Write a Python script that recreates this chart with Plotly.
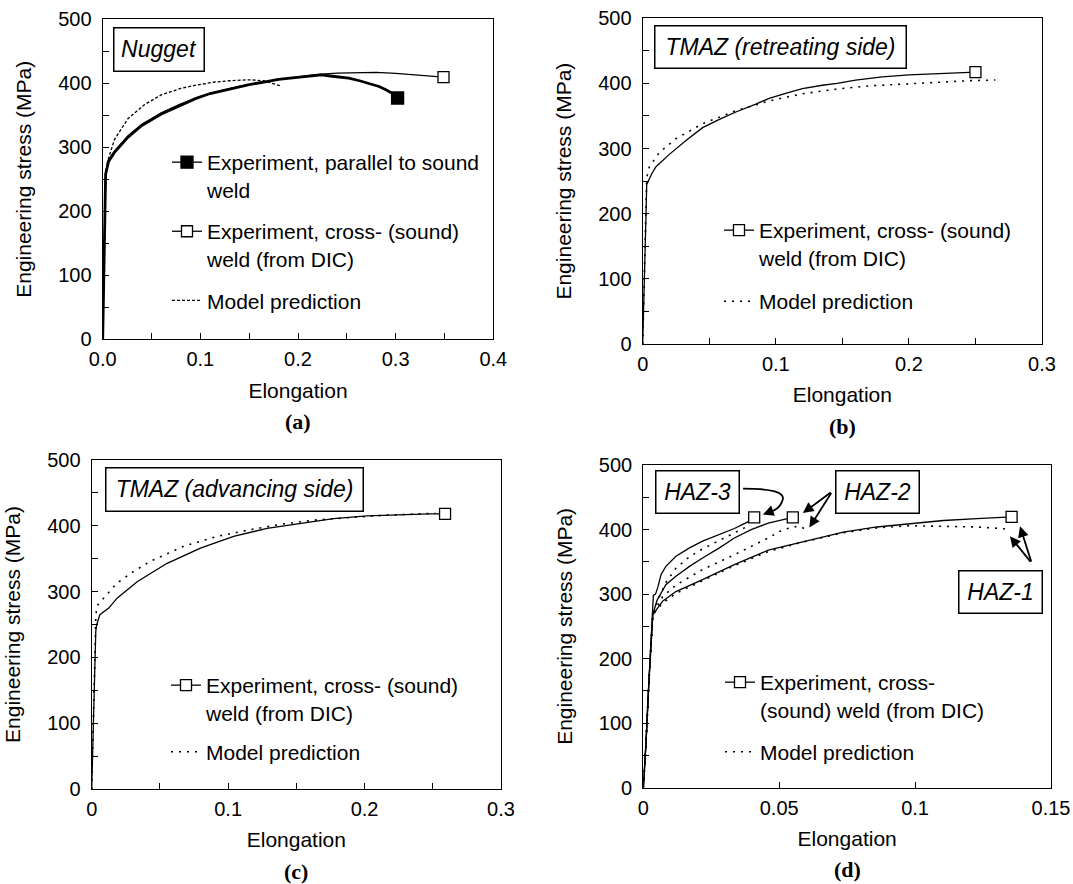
import plotly.graph_objects as go

FONT = "Liberation Sans, Arial, Helvetica, sans-serif"
SERIF = "Liberation Serif, Times New Roman, serif"
W, H = 1073, 884

# ---------------- data ----------------
# (a) Nugget
a_par_x = [0, 0.001, 0.002, 0.003, 0.006, 0.012, 0.026, 0.040, 0.060, 0.080, 0.095, 0.110, 0.130,
           0.150, 0.165, 0.180, 0.197, 0.210, 0.224, 0.235, 0.252, 0.263, 0.272, 0.283, 0.290, 0.297, 0.302]
a_par_y = [0, 100, 200, 258, 278, 292, 316, 334, 352, 366, 376, 384, 391,
           398, 402, 406, 409, 411, 413, 411, 408, 404, 400, 395, 390, 384, 377]
a_crs_x = [0, 0.001, 0.002, 0.003, 0.006, 0.012, 0.026, 0.040, 0.060, 0.080, 0.100, 0.120, 0.140,
           0.160, 0.180, 0.200, 0.220, 0.240, 0.260, 0.280, 0.300, 0.320, 0.335, 0.349]
a_crs_y = [0, 100, 200, 262, 280, 294, 318, 336, 354, 368, 379, 388, 395,
           401, 406, 410, 414, 416, 417, 417, 415.5, 413.5, 411.5, 409.5]
a_mod_x = [0, 0.001, 0.002, 0.003, 0.005, 0.012, 0.026, 0.043, 0.060, 0.080, 0.095, 0.115, 0.130,
           0.150, 0.165, 0.175, 0.182]
a_mod_y = [0, 90, 180, 255, 278, 312, 345, 367, 382, 392, 397, 402, 404, 405.5, 404, 400, 396]

# (b) TMAZ retreating side
b_exp_x = [0, 0.0015, 0.0025, 0.003, 0.004, 0.007, 0.010, 0.015, 0.020, 0.033, 0.045, 0.058, 0.070,
           0.085, 0.095, 0.108, 0.120, 0.135, 0.146, 0.160, 0.180, 0.200, 0.220, 0.235, 0.250]
b_exp_y = [0, 100, 200, 245, 250, 262, 272, 282, 291, 313, 332, 345, 356,
           368, 377, 385, 392, 397, 400, 405, 410, 413, 415, 416, 417]
b_mod_x = [0, 0.001, 0.002, 0.003, 0.005, 0.0125, 0.025, 0.045, 0.070, 0.095, 0.120, 0.145, 0.170,
           0.195, 0.220, 0.245, 0.265]
b_mod_y = [0, 100, 200, 255, 272, 294, 315, 338, 358, 373, 384, 391, 396, 399, 402, 404, 405]

# (c) TMAZ advancing side
c_exp_x = [0, 0.001, 0.002, 0.003, 0.0037, 0.006, 0.0125, 0.0186, 0.0333, 0.0553, 0.0797, 0.104,
           0.1285, 0.153, 0.1773, 0.2018, 0.226, 0.248, 0.259]
c_exp_y = [0, 80, 170, 240, 250, 265, 275, 290, 315, 343, 366, 384, 396, 404, 411, 415, 417, 418, 418]
c_mod_x = [0, 0.001, 0.002, 0.003, 0.0037, 0.0098, 0.0186, 0.031, 0.043, 0.0675, 0.092, 0.116,
           0.141, 0.165, 0.190, 0.214, 0.238, 0.252]
c_mod_y = [0, 90, 180, 260, 278, 293, 313, 331, 346, 369, 384, 394, 403, 409, 413, 416, 418, 419]

# (d) HAZ-1, HAZ-2, HAZ-3
d1_exp_x = [0, 0.001, 0.002, 0.003, 0.0035, 0.0071, 0.012, 0.0218, 0.0335, 0.046, 0.058, 0.0668,
            0.0736, 0.0859, 0.0981, 0.1104, 0.1227, 0.1325, 0.1355]
d1_exp_y = [0, 70, 160, 240, 268, 289, 304, 322.4, 345.7, 368, 380, 389, 396, 404, 409.5, 414, 417, 419, 419.5]
d1_mod_x = [0, 0.001, 0.002, 0.003, 0.0035, 0.0071, 0.012, 0.0218, 0.0335, 0.046, 0.058, 0.0736,
            0.0859, 0.0981, 0.1104, 0.1227, 0.1337, 0.1346]
d1_mod_y = [0, 70, 160, 240, 268, 286, 301, 321, 344, 366, 380, 395, 402.6, 406, 405.5, 404, 401, 399]
d2_exp_x = [0, 0.001, 0.002, 0.003, 0.0035, 0.005, 0.0083, 0.012, 0.017, 0.0218, 0.028, 0.0335,
            0.0397, 0.046, 0.051, 0.055]
d2_exp_y = [0, 70, 160, 240, 268, 290, 314.7, 327.6, 343, 356, 371.6, 387, 400, 410, 415.5, 419]
d2_mod_x = [0, 0.001, 0.002, 0.003, 0.0035, 0.0071, 0.012, 0.0218, 0.0335, 0.046, 0.051, 0.055, 0.0575, 0.060]
d2_mod_y = [0, 70, 160, 240, 268, 296, 314, 338, 361, 387, 399, 404, 405, 400]
d3_exp_x = [0, 0.001, 0.002, 0.003, 0.0035, 0.0037, 0.0045, 0.0053, 0.0065, 0.0083, 0.012, 0.017,
            0.0218, 0.028, 0.0335, 0.0366, 0.039, 0.0408]
d3_exp_y = [0, 70, 160, 240, 268, 298, 300, 310, 330, 343, 358.6, 371.6, 382, 392, 401.6, 408, 413, 419]
d3_mod_x = [0, 0.001, 0.002, 0.003, 0.0035, 0.0053, 0.0083, 0.012, 0.017, 0.0218, 0.028, 0.0335, 0.0383]
d3_mod_y = [0, 70, 160, 240, 268, 290, 318, 340, 358, 370, 383, 395, 405]

# labels
exp_par_name = "Experiment, parallel to sound<br>weld"
exp_crs_name = "Experiment, cross- (sound)<br>weld (from DIC)"
exp_crs_name_d = "Experiment, cross-<br>(sound) weld (from DIC)"
model_name = "Model prediction"
panel_titles = ["Nugget", "TMAZ (retreating side)", "TMAZ (advancing side)"]
haz_labels = ["HAZ-1", "HAZ-2", "HAZ-3"]
panel_letters = ["(a)", "(b)", "(c)", "(d)"]

# ---------------- figure ----------------
fig = go.Figure()
BLACK = "black"
DOT = "2px,6px"
DASH_A = "3px,2px"


def exp_line(x, y, n, width=1.3):
    fig.add_trace(go.Scatter(x=x, y=y, mode="lines", line=dict(color=BLACK, width=width),
                             xaxis="x" + n, yaxis="y" + n, showlegend=False, hoverinfo="skip"))


def end_marker(x, y, n, name, legend, group, filled=False, show=True, size=11):
    fig.add_trace(go.Scatter(x=[x[-1]], y=[y[-1]], mode="lines+markers", name=name,
                             legend=legend, legendgroup=group, showlegend=show,
                             line=dict(color=BLACK, width=1.3),
                             marker=dict(symbol="square", size=size,
                                         color=BLACK if filled else "white",
                                         line=dict(color=BLACK, width=1.3)),
                             xaxis="x" + n, yaxis="y" + n, hoverinfo="skip"))


def model_line(x, y, n, legend, group, show=True, dash=DOT, width=1.6):
    fig.add_trace(go.Scatter(x=x, y=y, mode="lines", name=model_name, legend=legend,
                             legendgroup=group, showlegend=show,
                             line=dict(color=BLACK, width=width, dash=dash),
                             xaxis="x" + n, yaxis="y" + n, hoverinfo="skip"))


# (a)
exp_line(a_crs_x, a_crs_y, "", 1.3)
exp_line(a_par_x, a_par_y, "", 2.8)
end_marker(a_par_x, a_par_y, "", exp_par_name, "legend", "a1", filled=True, size=12)
end_marker(a_crs_x, a_crs_y, "", exp_crs_name, "legend", "a2")
model_line(a_mod_x, a_mod_y, "", "legend", "a3", dash=DASH_A, width=1.3)
# (b)
exp_line(b_exp_x, b_exp_y, "2")
end_marker(b_exp_x, b_exp_y, "2", exp_crs_name, "legend2", "b1")
model_line(b_mod_x, b_mod_y, "2", "legend2", "b2")
# (c)
exp_line(c_exp_x, c_exp_y, "3")
end_marker(c_exp_x, c_exp_y, "3", exp_crs_name, "legend3", "c1")
model_line(c_mod_x, c_mod_y, "3", "legend3", "c2")
# (d)
for ex, ey in [(d1_exp_x, d1_exp_y), (d2_exp_x, d2_exp_y), (d3_exp_x, d3_exp_y)]:
    exp_line(ex, ey, "4")
end_marker(d1_exp_x, d1_exp_y, "4", exp_crs_name_d, "legend4", "d1")
end_marker(d2_exp_x, d2_exp_y, "4", exp_crs_name_d, "legend4", "d1", show=False)
end_marker(d3_exp_x, d3_exp_y, "4", exp_crs_name_d, "legend4", "d1", show=False)
model_line(d1_mod_x, d1_mod_y, "4", "legend4", "d2")
model_line(d2_mod_x, d2_mod_y, "4", "legend4", "d2", show=False)
model_line(d3_mod_x, d3_mod_y, "4", "legend4", "d2", show=False)

# ---------------- axes ----------------
# plot-area boxes in pixels: (left, right, top, bottom)
boxes = {"": (102.7, 493.3, 19.3, 339.3), "2": (642.7, 1042.0, 18.1, 344.1),
         "3": (91.7, 501.0, 460.0, 789.0), "4": (643.3, 1051.0, 465.0, 787.8)}
xranges = {"": [0, 0.4], "2": [0, 0.3], "3": [0, 0.3], "4": [0, 0.15]}
xdticks = {"": 0.1, "2": 0.1, "3": 0.1, "4": 0.05}


def tick_style():
    return dict(showline=True, linecolor=BLACK, linewidth=1.3, mirror=True, ticks="inside",
                ticklen=6, tickwidth=1.2, tickcolor=BLACK, showgrid=False, zeroline=False,
                tickfont=dict(family=FONT, size=20, color=BLACK), fixedrange=True, automargin=False)


layout = {}
for n, (l, r, t, b) in boxes.items():
    xa = tick_style()
    xa.update(domain=[l / W, r / W], anchor="y" + n, range=xranges[n], dtick=xdticks[n], tick0=0,
              ticklabelstandoff=2,
              title=dict(text="Elongation", font=dict(family=FONT, size=21, color=BLACK), standoff=13))
    if n == "":
        xa["tickformat"] = ".1f"
    if n != "4":
        xa["minor"] = dict(dtick=0.05, tick0=0, ticks="inside", ticklen=6, tickwidth=1.2, tickcolor=BLACK)
    ya = tick_style()
    ya.update(domain=[1 - b / H, 1 - t / H], anchor="x" + n, range=[0, 500], dtick=100, tick0=0,
              ticklabelstandoff=6,
              minor=dict(dtick=50, tick0=0, ticks="inside", ticklen=6, tickwidth=1.2, tickcolor=BLACK),
              title=dict(text="Engineering stress (MPa)", font=dict(family=FONT, size=21, color=BLACK),
                         standoff=20))
    layout["xaxis" + n] = xa
    layout["yaxis" + n] = ya


def legend_at(left_px, top_px, gap):
    return dict(x=left_px / W, y=1 - top_px / H, xanchor="left", yanchor="top",
                bgcolor="rgba(0,0,0,0)", borderwidth=0, valign="top", tracegroupgap=gap,
                font=dict(family=FONT, size=21, color=BLACK), itemclick=False, itemdoubleclick=False)


layout["legend"] = legend_at(167, 142, 11.5)
layout["legend2"] = legend_at(719, 210, 13.5)
layout["legend3"] = legend_at(166, 665, 9)
layout["legend4"] = legend_at(720, 662, 12)

fig.update_layout(**layout)

# ---------------- annotations ----------------
ann = []


def label_box(text, left, top, w, h, size=23):
    ann.append(dict(text="<i>" + text + "</i>", xref="paper", yref="paper", x=left / W, y=1 - top / H,
                    xanchor="left", yanchor="top", showarrow=False, width=w - 3, height=h - 3,
                    align="center", valign="middle", bordercolor=BLACK, borderwidth=1.5, borderpad=0,
                    bgcolor="white", font=dict(family=FONT, size=size, color=BLACK)))


label_box(panel_titles[0], 113, 26.7, 92, 44.5)
label_box(panel_titles[1], 653.6, 25, 253, 43.5)
label_box(panel_titles[2], 104.8, 466.6, 259, 44.8)
label_box(haz_labels[2], 655.3, 470, 85, 44)
label_box(haz_labels[1], 835, 470, 85, 44)
label_box(haz_labels[0], 957.7, 569.6, 85, 44)

for letter, (l, r, t, b) in zip(panel_letters, boxes.values()):
    ann.append(dict(text="<b>" + letter + "</b>", xref="paper", yref="paper",
                    x=(l + r) / 2 / W, y=1 - (b + 82) / H, xanchor="center", yanchor="middle",
                    showarrow=False, font=dict(family=SERIF, size=22, color=BLACK)))


def arrow(x, y, ax, ay):
    ann.append(dict(text="", x=x, y=y, ax=ax, ay=ay, xref="x4", yref="y4", axref="x4", ayref="y4",
                    showarrow=True, arrowhead=2, arrowsize=1.2, arrowwidth=1.8, arrowcolor=BLACK,
                    standoff=0, startstandoff=0))


# HAZ-2 arrows
arrow(0.0587, 425.5, 0.0695, 459)
arrow(0.0611, 403, 0.0695, 459)
# HAZ-1 arrows
arrow(0.1386, 405, 0.1429, 348)
arrow(0.1349, 389.6, 0.1429, 348)
# HAZ-3 curved arrow: tip
arrow(0.0440, 423.5, 0.0466, 427.5)
fig.update_layout(annotations=ann)

fig.add_shape(type="path", xref="x4", yref="y4",
              path="M 0.0367,463.5 C 0.0470,463.5 0.0525,458 0.0512,445 C 0.0505,436 0.0490,430 0.0466,427.5",
              line=dict(color=BLACK, width=1.8))

fig.update_layout(width=W, height=H, margin=dict(l=0, r=0, t=0, b=0), template="none",
                  paper_bgcolor="white", plot_bgcolor="white", showlegend=True,
                  font=dict(family=FONT, color=BLACK))

fig.write_html("out.html")
